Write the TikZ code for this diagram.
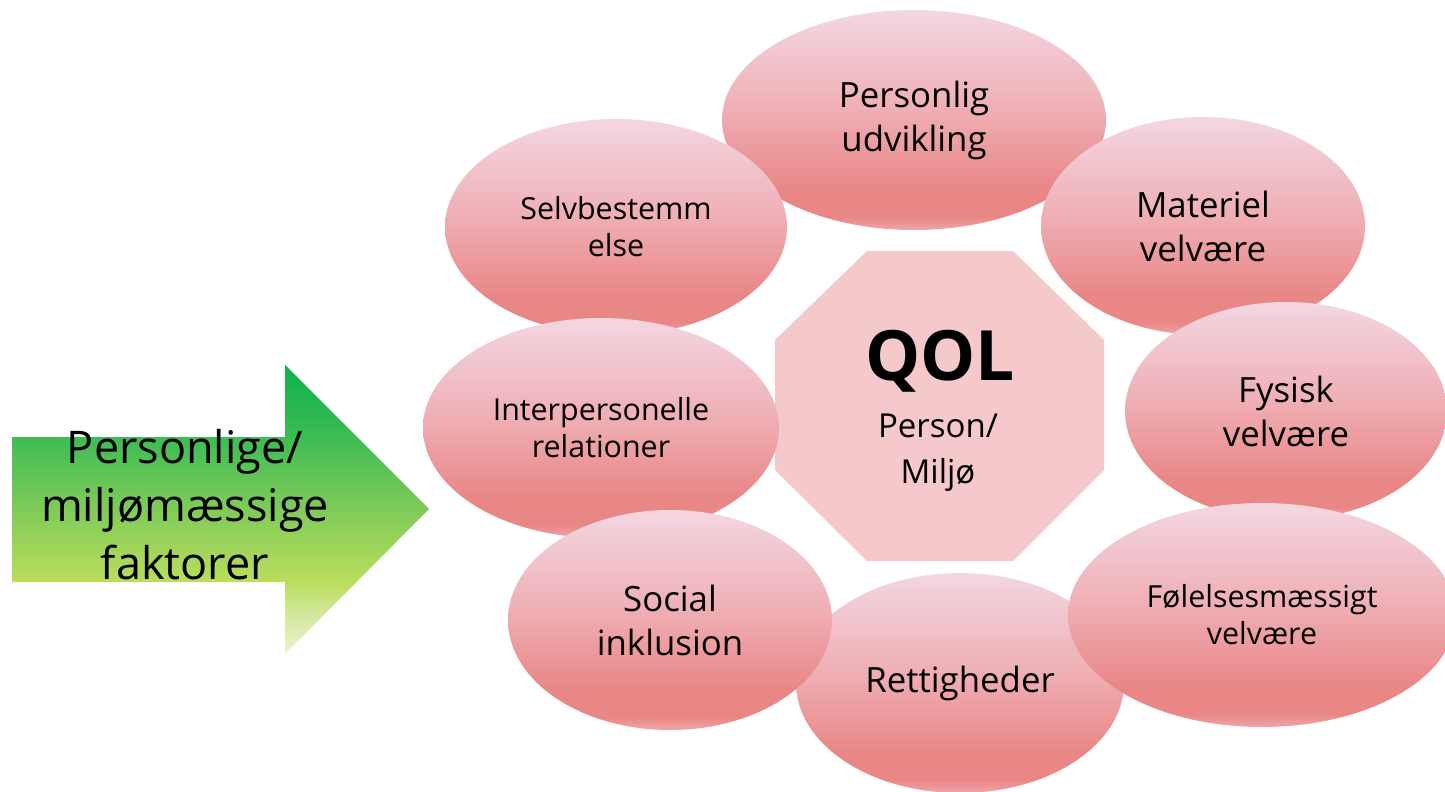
\documentclass[tikz,border=0pt]{standalone}
\usepackage{fontspec}
\setmainfont{Open Sans}
\usetikzlibrary{shapes.geometric}
\definecolor{eA}{HTML}{EFA6A9}
\definecolor{eB}{HTML}{E98686}
\definecolor{eC}{HTML}{EFAEB4}
\definecolor{eD}{HTML}{F3D7E2}
\definecolor{octfill}{HTML}{F5C8CB}
\definecolor{gA}{HTML}{EAF4D3}
\definecolor{gB}{HTML}{D3E89C}
\definecolor{gC}{HTML}{BADD5C}
\definecolor{gD}{HTML}{80CB58}
\definecolor{gE}{HTML}{3EBC55}
\definecolor{gF}{HTML}{0BB14C}
\pgfdeclareverticalshading{ellshade}{100bp}{color(0bp)=(eA); color(25bp)=(eA); color(28bp)=(eB); color(34bp)=(eB); color(52bp)=(eC); color(75bp)=(eD); color(100bp)=(eD)}
\pgfdeclareverticalshading{arrowshade}{100bp}{color(0bp)=(gA); color(25bp)=(gA); color(32bp)=(gB); color(37.5bp)=(gC); color(50bp)=(gD); color(62.5bp)=(gE); color(75bp)=(gF); color(100bp)=(gF)}
\begin{document}
\begin{tikzpicture}[x=0.5pt,y=-0.5pt,
  ell/.style={ellipse, shading=ellshade, draw=none, inner sep=0pt, align=center, text=black},
  bigtxt/.style={font=\fontsize{17.4}{22}\selectfont},
  smalltxt/.style={font=\fontsize{15.2}{18.5}\selectfont}]
\useasboundingbox (0,0) rectangle (1445,792);
% arrow
\shade[shading=arrowshade] (12,437) -- (285,437) -- (285,365) -- (429,509) -- (285,654) -- (285,582) -- (12,582) -- cycle;
\node[align=center, font=\fontsize{22.5}{29}\selectfont] (factors) at (185,505) {Personlige/\\miljømæssige\\faktorer};
% octagon
\fill[octfill] (867,251) -- (1013,251) -- (1104,340) -- (1104,470) -- (1013,561) -- (867,561) -- (775,470) -- (775,340) -- cycle;
\node[anchor=base, font=\fontsize{34.7}{40}\selectfont\bfseries] (qol) at (940,380) {QOL};
\node[anchor=base, font=\fontsize{16.5}{20}\selectfont] (pers) at (938,437) {Person/};
\node[anchor=base, font=\fontsize{16.5}{20}\selectfont] (milj) at (938,483) {Miljø};
% ellipses
\node[ell, bigtxt, minimum width=192pt, minimum height=110pt] (pu) at (914,120) {Personlig\\udvikling};
\node[ell, smalltxt, minimum width=171pt, minimum height=108pt] (sb) at (616,227) {Selvbestemm\\else};
\node[ell, smalltxt, minimum width=178pt, minimum height=110pt] (ir) at (601,428) {Interpersonelle\\relationer};
\node[ell, bigtxt, minimum width=162pt, minimum height=109pt] (mv) at (1203,226) {Materiel\\velvære};
\node[ell, bigtxt, minimum width=161pt, minimum height=109pt] (fv) at (1286,411) {Fysisk\\velvære};
\node[ell, bigtxt, minimum width=164pt, minimum height=110pt] (rt) at (960,683) {Rettigheder};
\node[ell, smalltxt, minimum width=194pt, minimum height=112pt] (fm) at (1262,615) {Følelsesmæssigt\\velvære};
\node[ell, bigtxt, minimum width=162pt, minimum height=110pt] (si) at (670,620) {Social\\inklusion};
\end{tikzpicture}
\end{document}
